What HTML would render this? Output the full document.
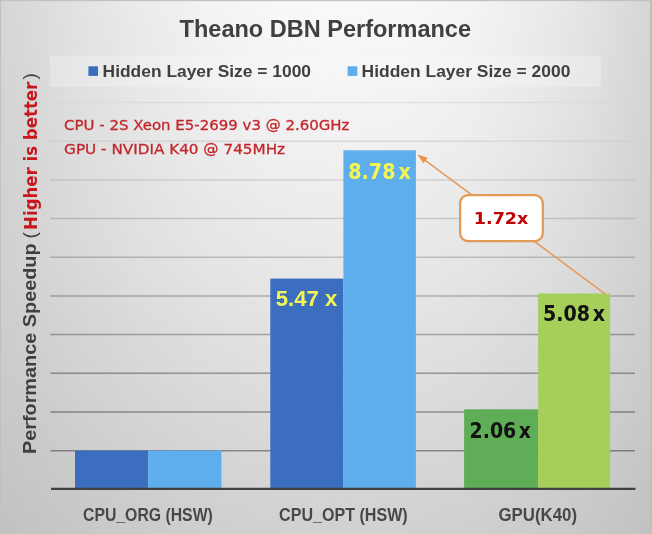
<!DOCTYPE html>
<html>
<head>
<meta charset="utf-8">
<title>Theano DBN Performance</title>
<style>
html,body{margin:0;padding:0;background:#d8d8d8;}
body{width:652px;height:534px;overflow:hidden;}
svg{display:block;}
.t{font-family:"Liberation Sans",Arial,sans-serif;font-weight:bold;fill:#404040;}
.v{font-family:"DejaVu Sans","Liberation Sans",sans-serif;}
.vc{font-family:"DejaVu Sans Condensed","DejaVu Sans","Liberation Sans",sans-serif;font-weight:bold;}
</style>
</head>
<body>
<svg width="652" height="534" viewBox="0 0 652 534">
<defs>
<linearGradient id="bgv" gradientUnits="userSpaceOnUse" x1="0" y1="0" x2="0" y2="534">
<stop offset="0" stop-color="#d6d6d6"/>
<stop offset="0.5" stop-color="#d0d0d0"/>
<stop offset="0.8" stop-color="#c8c8c8"/>
<stop offset="1" stop-color="#c2c2c2"/>
</linearGradient>
<linearGradient id="mv" gradientUnits="userSpaceOnUse" x1="0" y1="0" x2="0" y2="534">
<stop offset="0" stop-color="#fff" stop-opacity="0.86"/>
<stop offset="0.25" stop-color="#fff" stop-opacity="0.70"/>
<stop offset="0.5" stop-color="#fff" stop-opacity="0.52"/>
<stop offset="0.8" stop-color="#fff" stop-opacity="0.34"/>
<stop offset="1" stop-color="#fff" stop-opacity="0.25"/>
</linearGradient>
<mask id="m" maskUnits="userSpaceOnUse" x="0" y="0" width="652" height="534" style="mask-type:alpha"><rect x="0" y="0" width="652" height="534" fill="url(#mv)"/></mask>
<linearGradient id="bgh" gradientUnits="userSpaceOnUse" x1="0" y1="0" x2="652" y2="0">
<stop offset="0" stop-color="#fff" stop-opacity="0"/>
<stop offset="0.05" stop-color="#fff" stop-opacity="0.15"/>
<stop offset="0.12" stop-color="#fff" stop-opacity="0.36"/>
<stop offset="0.22" stop-color="#fff" stop-opacity="0.62"/>
<stop offset="0.32" stop-color="#fff" stop-opacity="0.83"/>
<stop offset="0.42" stop-color="#fff" stop-opacity="0.96"/>
<stop offset="0.52" stop-color="#fff" stop-opacity="1"/>
<stop offset="0.62" stop-color="#fff" stop-opacity="0.97"/>
<stop offset="0.72" stop-color="#fff" stop-opacity="0.86"/>
<stop offset="0.82" stop-color="#fff" stop-opacity="0.64"/>
<stop offset="0.9" stop-color="#fff" stop-opacity="0.4"/>
<stop offset="0.96" stop-color="#fff" stop-opacity="0.16"/>
<stop offset="1" stop-color="#fff" stop-opacity="0"/>
</linearGradient>
<linearGradient id="g0" gradientUnits="userSpaceOnUse" x1="50" y1="0" x2="636" y2="0"><stop offset="0" stop-color="#d8d8d8"/><stop offset="0.25" stop-color="#dfdfdf"/><stop offset="0.5" stop-color="#e3e3e3"/><stop offset="0.75" stop-color="#dfdfdf"/><stop offset="1" stop-color="#d8d8d8"/></linearGradient>
<linearGradient id="g1" gradientUnits="userSpaceOnUse" x1="50" y1="0" x2="636" y2="0"><stop offset="0" stop-color="#cecece"/><stop offset="0.25" stop-color="#d7d7d7"/><stop offset="0.5" stop-color="#dcdcdc"/><stop offset="0.75" stop-color="#d8d8d8"/><stop offset="1" stop-color="#d0d0d0"/></linearGradient>
<linearGradient id="g2" gradientUnits="userSpaceOnUse" x1="50" y1="0" x2="636" y2="0"><stop offset="0" stop-color="#c3c3c3"/><stop offset="0.25" stop-color="#cecece"/><stop offset="0.5" stop-color="#d4d4d4"/><stop offset="0.75" stop-color="#cfcfcf"/><stop offset="1" stop-color="#c6c6c6"/></linearGradient>
<linearGradient id="g3" gradientUnits="userSpaceOnUse" x1="50" y1="0" x2="636" y2="0"><stop offset="0" stop-color="#b6b6b6"/><stop offset="0.25" stop-color="#c4c4c4"/><stop offset="0.5" stop-color="#cbcbcb"/><stop offset="0.75" stop-color="#c5c5c5"/><stop offset="1" stop-color="#bababa"/></linearGradient>
<linearGradient id="g4" gradientUnits="userSpaceOnUse" x1="50" y1="0" x2="636" y2="0"><stop offset="0" stop-color="#a9a9a9"/><stop offset="0.25" stop-color="#b9b9b9"/><stop offset="0.5" stop-color="#c0c0c0"/><stop offset="0.75" stop-color="#bababa"/><stop offset="1" stop-color="#acacac"/></linearGradient>
<linearGradient id="g5" gradientUnits="userSpaceOnUse" x1="50" y1="0" x2="636" y2="0"><stop offset="0" stop-color="#9c9c9c"/><stop offset="0.25" stop-color="#ababab"/><stop offset="0.5" stop-color="#b2b2b2"/><stop offset="0.75" stop-color="#acacac"/><stop offset="1" stop-color="#9e9e9e"/></linearGradient>
<linearGradient id="g6" gradientUnits="userSpaceOnUse" x1="50" y1="0" x2="636" y2="0"><stop offset="0" stop-color="#919191"/><stop offset="0.25" stop-color="#9f9f9f"/><stop offset="0.5" stop-color="#a5a5a5"/><stop offset="0.75" stop-color="#9f9f9f"/><stop offset="1" stop-color="#929292"/></linearGradient>
<linearGradient id="g7" gradientUnits="userSpaceOnUse" x1="50" y1="0" x2="636" y2="0"><stop offset="0" stop-color="#888888"/><stop offset="0.25" stop-color="#949494"/><stop offset="0.5" stop-color="#9a9a9a"/><stop offset="0.75" stop-color="#949494"/><stop offset="1" stop-color="#888888"/></linearGradient>
<linearGradient id="g8" gradientUnits="userSpaceOnUse" x1="50" y1="0" x2="636" y2="0"><stop offset="0" stop-color="#828282"/><stop offset="0.25" stop-color="#8b8b8b"/><stop offset="0.5" stop-color="#909090"/><stop offset="0.75" stop-color="#8b8b8b"/><stop offset="1" stop-color="#808080"/></linearGradient>
<linearGradient id="g9" gradientUnits="userSpaceOnUse" x1="50" y1="0" x2="636" y2="0"><stop offset="0" stop-color="#7e7e7e"/><stop offset="0.25" stop-color="#858585"/><stop offset="0.5" stop-color="#898989"/><stop offset="0.75" stop-color="#858585"/><stop offset="1" stop-color="#7c7c7c"/></linearGradient>
</defs>
<rect x="0" y="0" width="652" height="534" fill="url(#bgv)"/>
<rect x="0" y="0" width="652" height="534" fill="url(#bgh)" mask="url(#m)"/>
<rect x="0" y="0" width="652" height="1.2" fill="#c2c2c2"/>
<rect x="0" y="0" width="1" height="534" fill="#c0c0c0"/>
<rect x="650" y="0" width="2" height="534" fill="#bfbfbf"/>
<!-- legend box -->
<rect x="50" y="55.5" width="551" height="31.5" fill="#f8f8f8" opacity="0.32"/>
<!-- gridlines -->
<g stroke-width="1.5">
<line x1="50.3" x2="635" y1="102.6" y2="102.6" stroke="url(#g0)"/>
<line x1="50.3" x2="635" y1="141.3" y2="141.3" stroke="url(#g1)"/>
<line x1="50.3" x2="635" y1="180" y2="180" stroke="url(#g2)"/>
<line x1="50.3" x2="635" y1="218.6" y2="218.6" stroke="url(#g3)"/>
<line x1="50.3" x2="635" y1="257.3" y2="257.3" stroke="url(#g4)"/>
<line x1="50.3" x2="635" y1="296" y2="296" stroke="url(#g5)"/>
<line x1="50.3" x2="635" y1="334.6" y2="334.6" stroke="url(#g6)"/>
<line x1="50.3" x2="635" y1="373.2" y2="373.2" stroke="url(#g7)"/>
<line x1="50.3" x2="635" y1="412" y2="412" stroke="url(#g8)"/>
<line x1="50.3" x2="635" y1="450.8" y2="450.8" stroke="url(#g9)"/>
</g>
<!-- bars -->
<rect x="75" y="450.6" width="73.2" height="38" fill="#3c6ec0"/>
<rect x="148.2" y="450.6" width="73.2" height="38" fill="#5eaeed"/>
<rect x="270.3" y="278.6" width="73.1" height="210" fill="#3c6ec0"/>
<rect x="343.4" y="150.3" width="72.5" height="338.3" fill="#5eaeed"/>
<rect x="464.1" y="409.3" width="74" height="79.3" fill="#5fad56"/>
<rect x="538.1" y="293.5" width="72" height="195" fill="#a5cf5a"/>
<!-- axis -->
<line x1="51" x2="635.5" y1="488.9" y2="488.9" stroke="#404040" stroke-width="2.4"/>
<!-- arrow -->
<line x1="605" y1="293.8" x2="424.5" y2="159.8" stroke="#e59a56" stroke-width="1.5"/>
<polygon points="417.5,154.6 427.8,157.7 423.4,163.6" fill="#e8944c"/>
<rect x="460.1" y="195.1" width="82.7" height="46" rx="8" ry="8" fill="#ffffff" stroke="#e39a57" stroke-width="2.3"/>
<text class="v" x="501.1" y="224" text-anchor="middle" font-size="16.5" font-weight="bold" fill="#c00000" textLength="54.5" lengthAdjust="spacingAndGlyphs">1.72x</text>
<!-- title -->
<text class="t" x="179.6" y="37.4" font-size="24" textLength="291.4" lengthAdjust="spacingAndGlyphs">Theano DBN Performance</text>
<!-- legend -->
<rect x="88.4" y="66.3" width="9.6" height="9.6" fill="#3c6ec0"/>
<text class="t" x="102.6" y="77" font-size="17" textLength="208.4" lengthAdjust="spacingAndGlyphs">Hidden Layer Size = 1000</text>
<rect x="347.6" y="66.3" width="9.7" height="9.6" fill="#5eaeed"/>
<text class="t" x="361.6" y="77" font-size="17" textLength="208.8" lengthAdjust="spacingAndGlyphs">Hidden Layer Size = 2000</text>
<!-- notes -->
<text class="v" x="64.1" y="130" font-size="14.8" fill="#c3262c" stroke="#c3262c" stroke-width="0.3" textLength="285.3" lengthAdjust="spacingAndGlyphs">CPU - 2S Xeon E5-2699 v3 @ 2.60GHz</text>
<text class="v" x="64.1" y="154.3" font-size="14.8" fill="#c3262c" stroke="#c3262c" stroke-width="0.3" textLength="221" lengthAdjust="spacingAndGlyphs">GPU - NVIDIA K40 @ 745MHz</text>
<!-- data labels -->
<text class="vc" x="348.2" y="179.3" font-size="21.3" fill="#f4f751" style="word-spacing:-3.6px">8.78 x</text>
<text class="t" x="275.7" y="306.3" font-size="21.5" style="fill:#f4f751" textLength="61.6" lengthAdjust="spacingAndGlyphs">5.47 x</text>
<text class="vc" x="469.6" y="437.5" font-size="21" fill="#111" style="word-spacing:-4px">2.06 x</text>
<text class="vc" x="543" y="321.4" font-size="21.2" fill="#111" style="word-spacing:-3.8px">5.08 x</text>
<!-- x labels -->
<text class="t" style="fill:#484848" x="83" y="520.5" font-size="18.4" textLength="129.8" lengthAdjust="spacingAndGlyphs">CPU_ORG (HSW)</text>
<text class="t" style="fill:#484848" x="279.1" y="520.5" font-size="18.4" textLength="128.6" lengthAdjust="spacingAndGlyphs">CPU_OPT (HSW)</text>
<text class="t" style="fill:#484848" x="498.4" y="520.5" font-size="18.4" textLength="78.6" lengthAdjust="spacingAndGlyphs">GPU(K40)</text>
<!-- y label -->
<g transform="translate(36.3,454.1) rotate(-90)">
<text class="t" x="0" y="0" font-size="18" textLength="210.7" lengthAdjust="spacingAndGlyphs">Performance Speedup</text>
<text class="t" x="215.6" y="0" font-size="19" style="font-weight:normal">(</text>
<text class="vc" x="224.2" y="0.7" font-size="18.2" fill="#c8161d" textLength="148.2" lengthAdjust="spacingAndGlyphs">Higher is better</text>
<text class="t" x="374.6" y="0" font-size="19" style="font-weight:normal">)</text>
</g>
</svg>
</body>
</html>
